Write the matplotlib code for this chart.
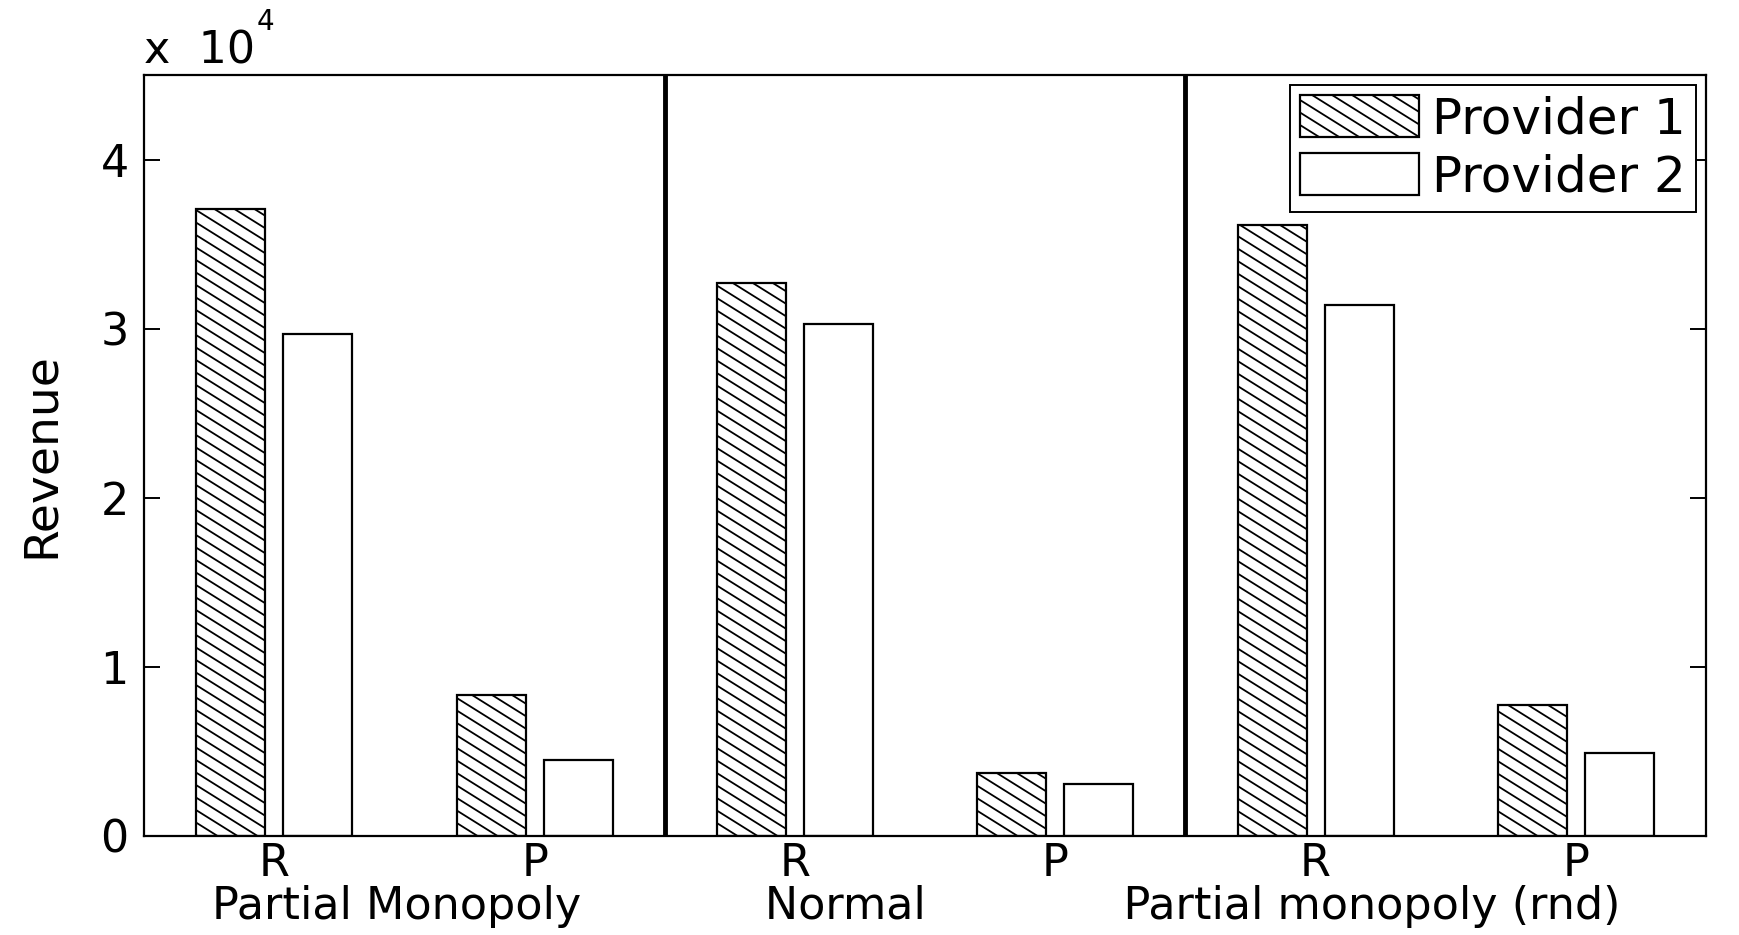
import numpy as np
import matplotlib
matplotlib.use("Agg")
import matplotlib.pyplot as plt
import matplotlib.hatch as mhatch
from matplotlib.path import Path

# revenue per scenario: R and P for each of the three market setups
tick_labels = ["R", "P", "R", "P", "R", "P"]
provider1 = [37100, 8350, 32700, 3750, 36100, 7760]
provider2 = [29700, 4470, 30260, 3090, 31380, 4930]
series_names = ["Provider 1", "Provider 2"]
group_title = ("Partial Monopoly" + " " * 13 + "Normal" + " " * 14
               + "Partial monopoly (rnd)")


class SlantHatch(mhatch.HatchPatternBase):
    # falling lines, 8 per inch, slope 5/8 so the tile repeats cleanly
    def __init__(self, hatch, density):
        self.num_lines = 14 if "\\" in hatch else 0
        self.num_vertices = self.num_lines * 2

    def set_vertices_and_codes(self, vertices, codes):
        c = np.arange(self.num_lines) / 8
        vertices[0::2, 0] = 0
        vertices[0::2, 1] = c
        vertices[1::2, 0] = 1
        vertices[1::2, 1] = c - 5 / 8
        codes[0::2] = Path.MOVETO
        codes[1::2] = Path.LINETO


mhatch._hatch_types[mhatch._hatch_types.index(mhatch.SouthEastHatch)] = SlantHatch

plt.rcParams["font.family"] = "DejaVu Sans"
plt.rcParams["font.size"] = 32
plt.rcParams["hatch.linewidth"] = 1.3
plt.rcParams["hatch.color"] = "black"

fig = plt.figure(figsize=(17.4, 9.35), dpi=100)
ax = fig.add_axes([0.0828, 0.1059, 0.8977, 0.8139])

x = np.arange(1, len(tick_labels) + 1)
w = 0.265
ax.bar(x - 0.167, provider1, w, facecolor="white", edgecolor="black",
       linewidth=1.6, hatch="\\", label=series_names[0])
ax.bar(x + 0.167, provider2, w, facecolor="white", edgecolor="black",
       linewidth=1.6, label=series_names[1])

for sep in [2.5, 4.5]:
    ax.axvline(sep, color="black", linewidth=3.5)

ax.set_xlim(0.5, 6.5)
ax.set_ylim(0, 45000)
ax.set_xticks(x)
ax.set_xticklabels(tick_labels)
ax.set_yticks([0, 10000, 20000, 30000, 40000])
ax.set_yticklabels(["0", "1", "2", "3", "4"])
ax.tick_params(axis="y", direction="in", length=11.5, width=1.4, pad=11,
               right=True)
ax.tick_params(axis="x", length=0, pad=4)
for s in ax.spines.values():
    s.set_linewidth(1.6)

# MATLAB-style exponent label above the y axis
base = ax.annotate("x  10", xy=(0, 1), xycoords="axes fraction",
                   xytext=(0, 8.6), textcoords="offset points",
                   ha="left", va="baseline")
ax.annotate("4", xy=(1, 1), xycoords=base, xytext=(1, -1),
            textcoords="offset points", ha="left", va="baseline",
            fontsize=20)

ax.set_ylabel("Revenue", fontsize=34, labelpad=26)
ax.set_xlabel(group_title, labelpad=0)
ax.xaxis.label.set_x(0.494)

leg = ax.legend(loc="upper right", fancybox=False, framealpha=1,
                edgecolor="black", fontsize=36, handlelength=2.38,
                handleheight=0.92, handletextpad=0.26, borderpad=0.2,
                labelspacing=0.2, borderaxespad=0.2)
leg.get_frame().set_linewidth(1.4)

fig.savefig("out.png", dpi=100)
